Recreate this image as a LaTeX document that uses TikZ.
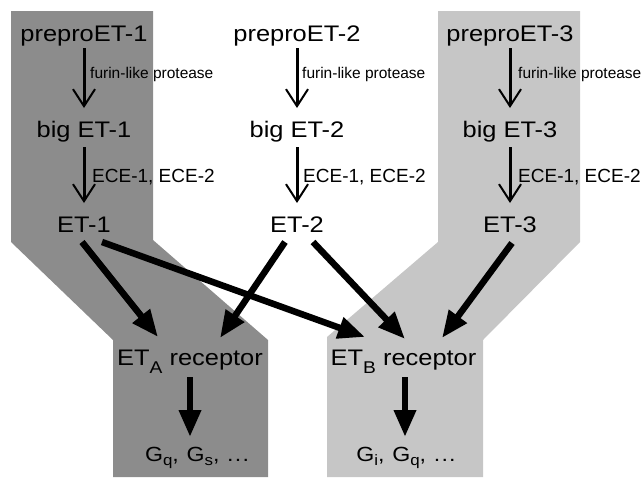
\documentclass[tikz,border=0pt]{standalone}
\usepackage{fontspec}
\setmainfont{Liberation Sans}
\newfontfamily\widesans{Liberation Sans}[FakeStretch=1.13]
\newfontfamily\gpfont{Liberation Sans}[FakeStretch=1.13, LetterSpace=6]
\usetikzlibrary{arrows.meta,calc}
\definecolor{bandA}{RGB}{140,140,140}
\definecolor{bandB}{RGB}{198,198,198}
% lowered, smaller index letter: {letter}{drop}{size}
\newcommand\idx[3]{\raisebox{-#2}{\fontsize{#3}{#3}\selectfont #1}}
\begin{document}
\begin{tikzpicture}[x=1pt,y=-1pt,
  main/.style={font=\widesans\fontsize{22.5}{26}\selectfont, inner sep=0pt, anchor=base},
  gsub/.style={font=\gpfont\fontsize{20.5}{24}\selectfont, inner sep=0pt, anchor=base},
  enz/.style={font=\fontsize{15.5}{19}\selectfont, inner sep=0pt, anchor=base west},
  ece/.style={font=\fontsize{19}{23}\selectfont, inner sep=0pt, anchor=base west},
  thinarr/.style={line width=3pt, -{Straight Barb[length=17pt,width=22pt,line width=2pt]}},
  fatarr/.style={line width=6.5pt, -{Triangle[length=27pt,width=21pt]}}]
\useasboundingbox (0,0) rectangle (643,477);

% shaded pathways
\fill[bandA] (11,11) -- (153,11) -- (153,240) -- (268,340) -- (268,477)
  -- (113,477) -- (113,340) -- (11,242) -- cycle;
\fill[bandB] (438,11) -- (580,11) -- (580,242) -- (483,340) -- (483,477)
  -- (327,477) -- (327,337) -- (438,242) -- cycle;

% precursors and peptides
\node[main] (pp1) at (84,41) {preproET-1};
\node[main] (pp2) at (297,41) {preproET-2};
\node[main] (pp3) at (510,41) {preproET-3};
\node[main] (big1) at (84,137) {big ET-1};
\node[main] (big2) at (297,137) {big ET-2};
\node[main] (big3) at (510,137) {big ET-3};
\node[main] (et1) at (84,232) {ET-1};
\node[main] (et2) at (297,232) {ET-2};
\node[main] (et3) at (510,232) {ET-3};

% receptors and G proteins
\node[main] (etA) at (190,365) {ET\idx{A}{8pt}{17} receptor};
\node[main] (etB) at (403.5,365) {ET\idx{B}{8pt}{17} receptor};
\node[gsub] (gA) at (197,461) {G\idx{q}{4pt}{15}, G\idx{s}{4pt}{15}, ...};
\node[gsub] (gB) at (406,461) {G\idx{i}{4pt}{15}, G\idx{q}{4pt}{15}, ...};

% enzyme labels
\foreach \c/\x in {1/90,2/302,3/518}
  \node[enz] (fur\c) at (\x,78) {furin-like protease};
\foreach \c/\x in {1/92,2/303,3/518}
  \node[ece] (ece\c) at (\x,182) {ECE-1, ECE-2};

% processing steps
\foreach \c in {1,2,3} {
  \draw[thinarr] ($(pp\c.base)+(0,7)$) -- ($(big\c.base)+(0,-29)$);
  \draw[thinarr] ($(big\c.base)+(0,10)$) -- ($(et\c.base)+(0,-29)$);
}

% binding to receptors
\draw[fatarr] ($(et1.base)+(-2,10)$) -- ($(etA.base)+(-32,-28)$);
\draw[fatarr] ($(et1.base)+(18,10)$) -- ($(etB.base)+(-38.5,-28)$);
\draw[fatarr] ($(et2.base)+(-12,10)$) -- ($(etA.base)+(30,-27)$);
\draw[fatarr] ($(et2.base)+(16,10)$) -- ($(etB.base)+(1.5,-26)$);
\draw[fatarr] ($(et3.base)+(2,11)$) -- ($(etB.base)+(38.5,-27)$);

% coupling to G proteins
\draw[fatarr] ($(etA.base)+(0,12)$) -- ($(gA.base)+(-7,-24)$);
\draw[fatarr] ($(etB.base)+(1.5,12)$) -- ($(gB.base)+(-1,-24)$);
\end{tikzpicture}
\end{document}
